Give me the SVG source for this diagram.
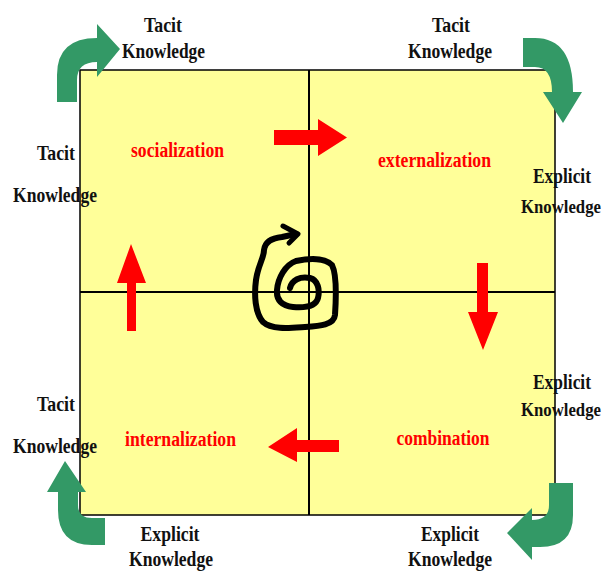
<svg xmlns="http://www.w3.org/2000/svg" width="606" height="572" viewBox="0 0 606 572">
<style>
.lbl{font-family:"Liberation Serif","Times New Roman",serif;font-weight:bold;font-size:20px;fill:#111;text-anchor:middle}
.sm{font-size:18px}
.red{font-family:"Liberation Serif","Times New Roman",serif;font-weight:bold;font-size:20px;fill:#ff0000;text-anchor:middle}
.green{fill:#339966}
.redarrow{fill:#ff0000}
.line{stroke:#000;stroke-width:2;fill:none}
</style>
<rect width="606" height="572" fill="#fff"/>
<g id="matrix">
<rect x="80" y="70" width="475" height="445" fill="#ffff99" stroke="#000" stroke-width="1.5"/>
<line class="line" x1="309" y1="70" x2="309" y2="515"/>
<line class="line" x1="80" y1="292" x2="555" y2="292"/>
</g>
<g id="socialization"><text class="red" x="177.5" y="157" textLength="93" lengthAdjust="spacingAndGlyphs">socialization</text></g>
<g id="externalization"><text class="red" x="434.5" y="167" textLength="113" lengthAdjust="spacingAndGlyphs">externalization</text></g>
<g id="internalization"><text class="red" x="180.5" y="446" textLength="111" lengthAdjust="spacingAndGlyphs">internalization</text></g>
<g id="combination"><text class="red" x="443" y="445" textLength="93" lengthAdjust="spacingAndGlyphs">combination</text></g>
<g id="labels">
<text class="lbl" x="163" y="32" textLength="38" lengthAdjust="spacingAndGlyphs">Tacit</text>
<text class="lbl" x="163.5" y="58" textLength="83" lengthAdjust="spacingAndGlyphs">Knowledge</text>
<text class="lbl" x="451" y="32" textLength="38" lengthAdjust="spacingAndGlyphs">Tacit</text>
<text class="lbl" x="450" y="58" textLength="84" lengthAdjust="spacingAndGlyphs">Knowledge</text>
<text class="lbl" x="56" y="160" textLength="38" lengthAdjust="spacingAndGlyphs">Tacit</text>
<text class="lbl" x="55" y="202" textLength="84" lengthAdjust="spacingAndGlyphs">Knowledge</text>
<text class="lbl" x="562" y="183" textLength="58" lengthAdjust="spacingAndGlyphs">Explicit</text>
<text class="lbl sm" x="561" y="213" textLength="80" lengthAdjust="spacingAndGlyphs">Knowledge</text>
<text class="lbl" x="562" y="389" textLength="58" lengthAdjust="spacingAndGlyphs">Explicit</text>
<text class="lbl sm" x="561" y="416" textLength="80" lengthAdjust="spacingAndGlyphs">Knowledge</text>
<text class="lbl" x="56" y="411" textLength="38" lengthAdjust="spacingAndGlyphs">Tacit</text>
<text class="lbl" x="55" y="453" textLength="84" lengthAdjust="spacingAndGlyphs">Knowledge</text>
<text class="lbl" x="170" y="541" textLength="59" lengthAdjust="spacingAndGlyphs">Explicit</text>
<text class="lbl" x="171" y="566" textLength="84" lengthAdjust="spacingAndGlyphs">Knowledge</text>
<text class="lbl" x="450" y="541" textLength="58" lengthAdjust="spacingAndGlyphs">Explicit</text>
<text class="lbl" x="450" y="566" textLength="84" lengthAdjust="spacingAndGlyphs">Knowledge</text>
</g>
<g id="connectors">
<path class="redarrow" d="M274,130 L318,130 L318,119 L347,137.5 L318,156 L318,145 L274,145 Z"/>
<path class="redarrow" d="M477,263 L488,263 L488,312 L498,312 L483,350 L468,312 L477,312 Z"/>
<path class="redarrow" d="M339,440 L297,440 L297,428 L268,447 L297,462 L297,452 L339,452 Z"/>
<path class="redarrow" d="M127,331 L127,283 L117,283 L131,244 L146,283 L136,283 L136,331 Z"/>
<path class="green" d="M57,102 L57,75 Q57,38 97,38 L97,24 L120,49 L97,77 L97,62 Q77,62 77,80 L77,102 Z"/>
<path class="green" d="M523,38 L535,38 Q573,38 573,92 L582,92 L563,123 L543,92 L552,92 Q552,67 535,67 L523,67 Z"/>
<path class="green" d="M549,483 L573,483 L573,515 Q573,547 540,547 L532,547 L532,560 L507,533 L532,508 L532,520 Q549,520 549,505 Z"/>
<path class="green" d="M65,461 L86,492 L78,492 L78,505 Q78,518 92,518 L105,518 L105,545 L92,545 Q58,545 58,510 L58,492 L47,492 Z"/>
<path fill="none" stroke="#000" stroke-width="6" stroke-linecap="round" stroke-linejoin="round" d="M290,288 C292,280 300,276 310,278 C318,280 320,290 318,298 C316,306 305,308 293,307 C282,306 276,300 277,290 C278,278 285,265 296,261 C310,258 325,258 332,265 C337,275 336,300 335,315 C334,325 320,326 305,327 C290,328 272,330 263,322 C255,313 254,295 256,280 C258,265 264,258 264,250 C265,242 272,238 282,237 L296,234"/>
<path fill="none" stroke="#000" stroke-width="5" stroke-linecap="round" stroke-linejoin="round" d="M283,226 L298,234 L289,243"/>
</g>
</svg>
